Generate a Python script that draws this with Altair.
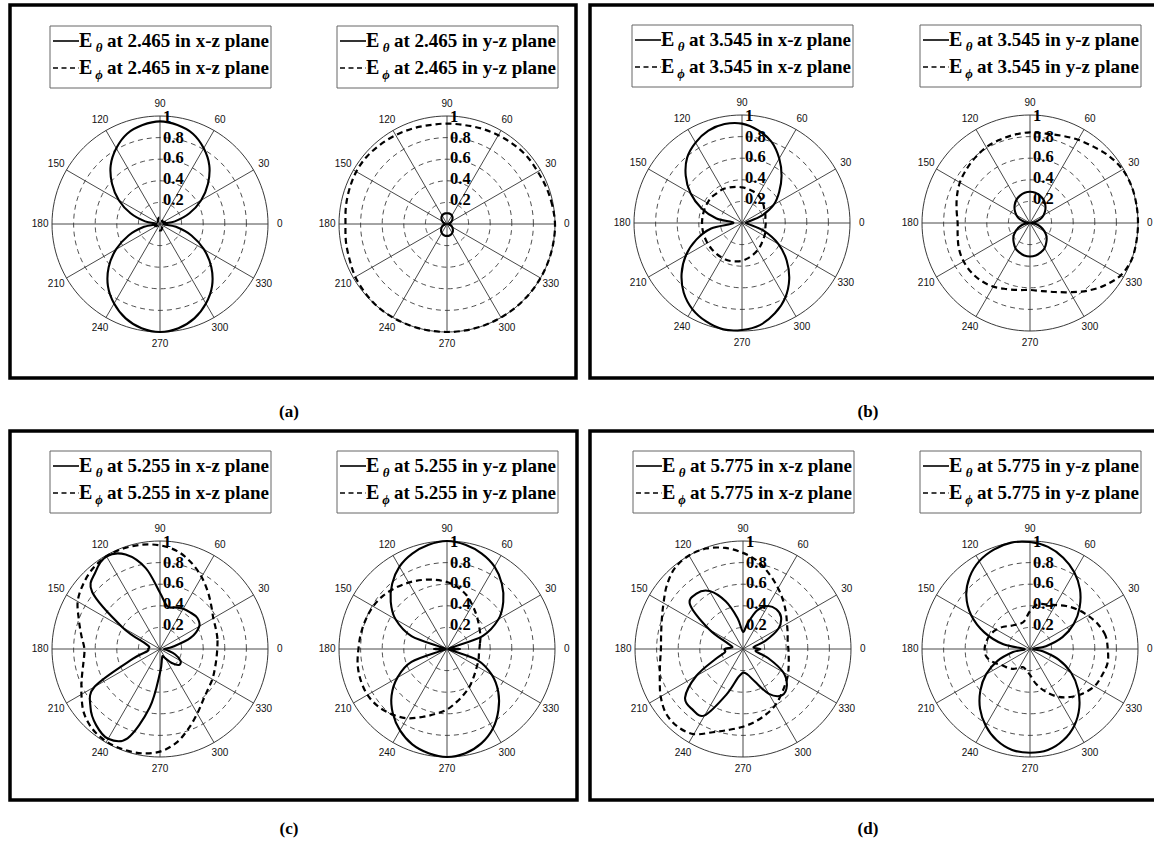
import math
import altair as alt
import pandas as pd

W, H = 1154, 854          # canvas size in px
R = 108                   # radius of the unit circle in px

ANG = list(range(0, 360, 10))   # sample angles (deg) of every pattern

# ---------------- normalised field patterns, one value per 10 degrees ----------------
a_xz_theta = [0.03, 0.14, 0.29, 0.44, 0.58, 0.71, 0.81, 0.89, 0.93, 0.95, 0.93, 0.89,
              0.81, 0.71, 0.58, 0.44, 0.29, 0.14, 0.03, 0.15, 0.31, 0.47, 0.62, 0.75,
              0.85, 0.93, 0.98, 1.00, 0.98, 0.93, 0.85, 0.75, 0.62, 0.47, 0.31, 0.15]
a_xz_phi = [0.04, 0.05, 0.05, 0.04, 0.03, 0.03, 0.04, 0.05, 0.06, 0.06, 0.06, 0.05,
            0.04, 0.03, 0.03, 0.04, 0.05, 0.05, 0.04, 0.05, 0.05, 0.04, 0.03, 0.03,
            0.04, 0.05, 0.06, 0.06, 0.06, 0.05, 0.04, 0.03, 0.03, 0.04, 0.05, 0.05]
a_yz_theta = [0.01, 0.02, 0.035, 0.05, 0.065, 0.08, 0.09, 0.097, 0.10, 0.10, 0.10, 0.097,
              0.09, 0.08, 0.065, 0.05, 0.035, 0.02, 0.01, 0.02, 0.038, 0.055, 0.07, 0.085,
              0.097, 0.105, 0.11, 0.11, 0.11, 0.105, 0.097, 0.085, 0.07, 0.055, 0.038, 0.02]
a_yz_phi = [1.00, 0.99, 0.98, 0.97, 0.97, 0.96, 0.95, 0.94, 0.93, 0.93, 0.93, 0.94,
            0.95, 0.96, 0.97, 0.97, 0.96, 0.95, 0.94, 0.95, 0.96, 0.98, 0.99, 1.00,
            1.00, 1.00, 1.00, 1.00, 1.00, 1.00, 1.00, 1.00, 1.00, 1.00, 1.00, 1.00]

b_xz_theta = [0.04, 0.05, 0.19, 0.34, 0.45, 0.57, 0.69, 0.80, 0.87, 0.92, 0.93, 0.91,
              0.86, 0.79, 0.68, 0.55, 0.40, 0.24, 0.08, 0.29, 0.45, 0.60, 0.73, 0.84,
              0.92, 0.97, 1.00, 0.99, 0.96, 0.89, 0.80, 0.68, 0.54, 0.39, 0.22, 0.06]
b_xz_phi = [0.22, 0.22, 0.23, 0.24, 0.26, 0.28, 0.30, 0.31, 0.32, 0.33, 0.34, 0.35,
            0.36, 0.36, 0.37, 0.37, 0.37, 0.37, 0.37, 0.37, 0.37, 0.37, 0.37, 0.37,
            0.37, 0.37, 0.36, 0.35, 0.33, 0.31, 0.29, 0.27, 0.25, 0.24, 0.23, 0.22]
b_yz_theta = [0.01, 0.05, 0.10, 0.145, 0.185, 0.22, 0.25, 0.27, 0.285, 0.29, 0.285, 0.27,
              0.25, 0.22, 0.185, 0.145, 0.10, 0.05, 0.01, 0.055, 0.105, 0.155, 0.20, 0.235,
              0.27, 0.29, 0.305, 0.31, 0.305, 0.29, 0.27, 0.235, 0.20, 0.155, 0.105, 0.055]
b_yz_phi = [1.00, 1.00, 1.00, 0.99, 0.96, 0.92, 0.89, 0.86, 0.84, 0.84, 0.83, 0.82,
            0.81, 0.79, 0.77, 0.75, 0.72, 0.69, 0.67, 0.68, 0.70, 0.71, 0.71, 0.70,
            0.68, 0.65, 0.63, 0.62, 0.64, 0.68, 0.74, 0.82, 0.90, 0.97, 1.00, 1.00]

c_xz_theta = [0.04, 0.12, 0.30, 0.42, 0.45, 0.44, 0.43, 0.41, 0.40, 0.52, 0.76, 0.93,
              0.99, 0.93, 0.82, 0.40, 0.14, 0.10, 0.11, 0.12, 0.27, 0.70, 0.84, 0.92,
              0.96, 0.88, 0.55, 0.22, 0.10, 0.07, 0.10, 0.17, 0.23, 0.22, 0.15, 0.07]
c_xz_phi = [0.53, 0.54, 0.55, 0.57, 0.62, 0.69, 0.77, 0.85, 0.92, 0.96, 0.98, 0.99,
            0.99, 0.97, 0.93, 0.88, 0.80, 0.74, 0.70, 0.72, 0.77, 0.84, 0.92, 0.97,
            0.99, 0.99, 0.98, 0.95, 0.88, 0.78, 0.69, 0.62, 0.58, 0.56, 0.54, 0.53]
c_yz_theta = [0.12, 0.02, 0.35, 0.55, 0.68, 0.79, 0.88, 0.94, 0.98, 1.00, 0.98, 0.94,
              0.88, 0.79, 0.68, 0.55, 0.35, 0.02, 0.12, 0.02, 0.35, 0.53, 0.67, 0.78,
              0.87, 0.94, 0.98, 1.00, 0.98, 0.93, 0.85, 0.74, 0.62, 0.48, 0.30, 0.02]
c_yz_phi = [0.30, 0.31, 0.33, 0.35, 0.38, 0.42, 0.47, 0.53, 0.58, 0.62, 0.65, 0.68,
            0.71, 0.74, 0.77, 0.79, 0.80, 0.81, 0.82, 0.84, 0.85, 0.85, 0.83, 0.79,
            0.74, 0.67, 0.61, 0.56, 0.50, 0.45, 0.41, 0.37, 0.34, 0.32, 0.31, 0.30]

d_xz_theta = [0.16, 0.10, 0.22, 0.38, 0.46, 0.48, 0.46, 0.38, 0.24, 0.16, 0.29, 0.47,
              0.62, 0.67, 0.64, 0.36, 0.15, 0.10, 0.17, 0.17, 0.27, 0.50, 0.70, 0.73,
              0.71, 0.45, 0.27, 0.22, 0.24, 0.32, 0.48, 0.56, 0.53, 0.43, 0.25, 0.12]
d_xz_phi = [0.42, 0.42, 0.44, 0.47, 0.52, 0.58, 0.65, 0.73, 0.82, 0.89, 0.95, 0.99,
            1.00, 0.98, 0.92, 0.85, 0.80, 0.77, 0.76, 0.78, 0.82, 0.88, 0.93, 0.94,
            0.91, 0.82, 0.76, 0.72, 0.68, 0.64, 0.60, 0.55, 0.51, 0.48, 0.45, 0.43]
d_yz_theta = [0.03, 0.15, 0.32, 0.47, 0.60, 0.72, 0.82, 0.90, 0.96, 0.99, 1.00, 0.98,
              0.94, 0.87, 0.77, 0.63, 0.45, 0.25, 0.05, 0.16, 0.32, 0.47, 0.60, 0.72,
              0.82, 0.90, 0.95, 0.96, 0.95, 0.90, 0.82, 0.71, 0.58, 0.44, 0.28, 0.12]
d_yz_phi = [0.72, 0.71, 0.67, 0.62, 0.57, 0.52, 0.47, 0.44, 0.42, 0.35, 0.27, 0.25,
            0.26, 0.28, 0.32, 0.36, 0.39, 0.41, 0.42, 0.41, 0.36, 0.30, 0.27, 0.24,
            0.20, 0.18, 0.20, 0.24, 0.33, 0.42, 0.51, 0.58, 0.64, 0.69, 0.71, 0.73]

FREQS = ["2.465", "2.465", "3.545", "3.545", "5.255", "5.255", "5.775", "5.775"]
PLANES = ["x-z", "y-z"] * 4
THETA = [a_xz_theta, a_yz_theta, b_xz_theta, b_yz_theta,
         c_xz_theta, c_yz_theta, d_xz_theta, d_yz_theta]
PHI = [a_xz_phi, a_yz_phi, b_xz_phi, b_yz_phi,
       c_xz_phi, c_yz_phi, d_xz_phi, d_yz_phi]
RING_VALUES = [0.2, 0.4, 0.6, 0.8]
RADIAL_LABELS = ["0.2", "0.4", "0.6", "0.8", "1"]
SPOKES = [0, 30, 60, 90, 120, 150]
ANGLE_LABELS = list(range(0, 360, 30))
PANEL_LABELS = ["(a)", "(b)", "(c)", "(d)"]

# ---------------- layout (pixel positions of the polar origins and frames) ----------------
CENTERS = [(160, 224), (447, 224), (742, 223), (1030, 223),
           (160, 649), (447, 649), (743, 649), (1030, 649)]
FRAMES = [(10, 5, 576, 378), (590, 5, 1170, 378),
          (10, 431, 577, 800), (590, 431, 1170, 800)]
LABEL_POS = [(289, 412), (868, 412), (289, 829), (868, 829)]

SERIF = "Liberation Serif"
SANS = "Liberation Sans"

# ---------------- tables ----------------
curve_rows = []
for p, (cx, cy) in enumerate(CENTERS):
    for comp, vals in (("theta", THETA[p]), ("phi", PHI[p])):
        for a, r in zip(ANG, vals):
            curve_rows.append(dict(pid=p, comp=comp, ang=a, r=r, cx=cx, cy=cy))
curves = pd.DataFrame(curve_rows)

ring_rows = []
for p, (cx, cy) in enumerate(CENTERS):
    for v in RING_VALUES + [1.0]:
        for a in range(0, 360, 3):
            ring_rows.append(dict(pid=p, v=v, ring=f"{p}-{v}", ang=a, cx=cx, cy=cy))
rings = pd.DataFrame(ring_rows)

spokes = pd.DataFrame([dict(pid=p, ang=a, cx=cx, cy=cy)
                       for p, (cx, cy) in enumerate(CENTERS) for a in SPOKES])
angle_lbl = pd.DataFrame([dict(pid=p, ang=a, txt=str(a), cx=cx, cy=cy)
                          for p, (cx, cy) in enumerate(CENTERS) for a in ANGLE_LABELS])
radial_lbl = pd.DataFrame([dict(pid=p, v=float(t), txt=t, cx=cx, cy=cy)
                           for p, (cx, cy) in enumerate(CENTERS) for t in RADIAL_LABELS])

leg_box, leg_line, leg_e, leg_sub, leg_rest = [], [], [], [], []
for p, (cx, cy) in enumerate(CENTERS):
    bl = cx - 110
    leg_box.append(dict(x=bl, x2=bl + 221, y=cy - 198, y2=cy - 136))
    for k, (comp, sym) in enumerate((("theta", "θ"), ("phi", "ϕ"))):
        yy = cy - 183 + 27 * k
        leg_line.append(dict(comp=comp, x=bl + 3, x2=bl + 29, y=yy))
        leg_e.append(dict(x=bl + 29, y=yy, txt="E"))
        leg_sub.append(dict(x=bl + 49, y=yy + 7, txt=sym))
        leg_rest.append(dict(x=bl + 57, y=yy,
                             txt=f"at {FREQS[p]} in {PLANES[p]} plane"))
leg_box = pd.DataFrame(leg_box)
leg_line = pd.DataFrame(leg_line)
leg_e = pd.DataFrame(leg_e)
leg_sub = pd.DataFrame(leg_sub)
leg_rest = pd.DataFrame(leg_rest)

frames = pd.DataFrame([dict(x=a, y=b, x2=c, y2=d) for a, b, c, d in FRAMES])
panel_lbl = pd.DataFrame([dict(x=x, y=y, txt=t) for (x, y), t in zip(LABEL_POS, PANEL_LABELS)])

# ---------------- shared scales ----------------
XS = alt.Scale(domain=[0, W], nice=False, zero=False)
YS = alt.Scale(domain=[0, H], nice=False, zero=False, reverse=True)


def X(f="x"):
    return alt.X(f"{f}:Q", scale=XS, axis=None)


def Y(f="y"):
    return alt.Y(f"{f}:Q", scale=YS, axis=None)


polar_xy = dict(x=f"datum.cx + {R} * datum.r * cos(datum.ang * PI / 180)",
                y=f"datum.cy - {R} * datum.r * sin(datum.ang * PI / 180)")

# grid rings
ring_layer = alt.Chart(rings).transform_calculate(
    x=f"datum.cx + {R} * datum.v * cos(datum.ang * PI / 180)",
    y=f"datum.cy - {R} * datum.v * sin(datum.ang * PI / 180)",
)
dashed_rings = ring_layer.transform_filter("datum.v < 1").mark_line(
    interpolate="linear-closed", strokeDash=[5, 4], strokeWidth=0.8, color="#222"
).encode(x=X(), y=Y(), detail="ring:N", order="ang:Q")
outer_ring = ring_layer.transform_filter("datum.v >= 1").mark_line(
    interpolate="linear-closed", strokeWidth=0.9, color="#222"
).encode(x=X(), y=Y(), detail="ring:N", order="ang:Q")

spoke_layer = alt.Chart(spokes).transform_calculate(
    x=f"datum.cx + {R} * cos(datum.ang * PI / 180)",
    x2=f"datum.cx - {R} * cos(datum.ang * PI / 180)",
    y=f"datum.cy - {R} * sin(datum.ang * PI / 180)",
    y2=f"datum.cy + {R} * sin(datum.ang * PI / 180)",
).mark_rule(strokeWidth=0.9, color="#333").encode(
    x=X(), x2="x2:Q", y=Y(), y2="y2:Q")

theta_layer = alt.Chart(curves).transform_filter("datum.comp == 'theta'").transform_calculate(
    **polar_xy).mark_line(interpolate="cardinal-closed", strokeWidth=2.1, color="black").encode(
    x=X(), y=Y(), detail="pid:N", order="ang:Q")
phi_layer = alt.Chart(curves).transform_filter("datum.comp == 'phi'").transform_calculate(
    **polar_xy).mark_line(interpolate="cardinal-closed", strokeWidth=2.2, color="black",
                          strokeDash=[6, 4]).encode(
    x=X(), y=Y(), detail="pid:N", order="ang:Q")

angle_text = alt.Chart(angle_lbl).transform_calculate(
    x=f"datum.cx + {R * 1.11} * cos(datum.ang * PI / 180)",
    y=f"datum.cy - {R * 1.11} * sin(datum.ang * PI / 180)",
).mark_text(font=SANS, fontSize=10, color="#111", align="center", baseline="middle").encode(
    x=X(), y=Y(), text="txt:N")

radial_text = alt.Chart(radial_lbl).transform_calculate(
    x="datum.cx + 3",
    y=f"datum.cy - {R * 0.965} * datum.v - 3",
).mark_text(font=SERIF, fontSize=16.5, fontWeight="bold", color="black",
            align="left", baseline="middle").encode(x=X(), y=Y(), text="txt:N")

legend_box = alt.Chart(leg_box).mark_rect(fill="white", stroke="#666", strokeWidth=1).encode(
    x=X(), x2="x2:Q", y=Y(), y2="y2:Q")
legend_solid = alt.Chart(leg_line).transform_filter("datum.comp == 'theta'").mark_rule(
    strokeWidth=1.6, color="black").encode(x=X(), x2="x2:Q", y=Y())
legend_dash = alt.Chart(leg_line).transform_filter("datum.comp == 'phi'").mark_rule(
    strokeWidth=1.6, color="black", strokeDash=[5, 3.5]).encode(x=X(), x2="x2:Q", y=Y())
legend_e = alt.Chart(leg_e).mark_text(font=SERIF, fontSize=20, fontWeight="bold",
                                      align="left", baseline="middle").encode(
    x=X(), y=Y(), text="txt:N")
legend_sub = alt.Chart(leg_sub).mark_text(font=SERIF, fontSize=13, fontWeight="bold",
                                          fontStyle="italic", align="center",
                                          baseline="middle").encode(
    x=X(), y=Y(), text="txt:N")
legend_rest = alt.Chart(leg_rest).mark_text(font=SERIF, fontSize=19, fontWeight="bold",
                                            align="left", baseline="middle").encode(
    x=X(), y=Y(), text="txt:N")

frame_layer = alt.Chart(frames).mark_rect(fillOpacity=0, stroke="black", strokeWidth=3.5).encode(
    x=X(), x2="x2:Q", y=Y(), y2="y2:Q")
panel_text = alt.Chart(panel_lbl).mark_text(font=SERIF, fontSize=17, fontWeight="bold",
                                            align="center", baseline="middle").encode(
    x=X(), y=Y(), text="txt:N")

chart = alt.layer(
    dashed_rings, outer_ring, spoke_layer, theta_layer, phi_layer,
    angle_text, radial_text, legend_box, legend_solid, legend_dash,
    legend_e, legend_sub, legend_rest, frame_layer, panel_text,
).properties(
    width=W, height=H, padding=0, autosize=alt.AutoSizeParams(type="none"),
    background="white",
).configure_view(stroke=None)

chart.save("out.html", embed_options={"renderer": "svg", "actions": False})
